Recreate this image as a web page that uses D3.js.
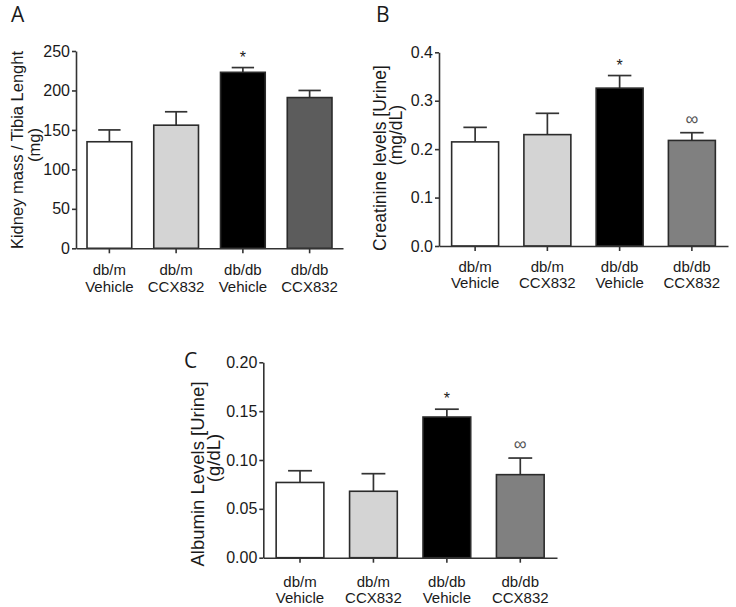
<!DOCTYPE html>
<html>
<head>
<meta charset="utf-8">
<script src="https://cdn.jsdelivr.net/npm/d3@7"></script>
<style>
  html, body { margin: 0; padding: 0; background: #fff; }
  svg { display: block; }
  text { font-family: "Liberation Sans", Arial, Helvetica, sans-serif; fill: #1a1a1a; }
</style>
</head>
<body>
<svg id="chart" width="736" height="607"></svg>
<script>
// ---- data ----
const genotypes = ["db/m", "db/m", "db/db", "db/db"];
const treatments = ["Vehicle", "CCX832", "Vehicle", "CCX832"];

const kidneyMass = [135, 156, 223, 191];
const kidneyMassErr = [15, 17, 6, 9];
const kidneyMarks = ["", "", "*", ""];
const kidneyTicks = [0, 50, 100, 150, 200, 250];

const creatinine = [0.215, 0.230, 0.326, 0.218];
const creatinineErr = [0.030, 0.044, 0.026, 0.016];
const creatinineMarks = ["", "", "*", "\u221E"];
const creatinineTicks = [0, 0.1, 0.2, 0.3, 0.4];

const albumin = [0.077, 0.068, 0.144, 0.085];
const albuminErr = [0.012, 0.018, 0.008, 0.017];
const albuminMarks = ["", "", "*", "\u221E"];
const albuminTicks = [0, 0.05, 0.10, 0.15, 0.20];

const fillsA = ["#ffffff", "#d4d4d4", "#000000", "#5c5c5c"];
const fillsBC = ["#ffffff", "#d4d4d4", "#000000", "#808080"];

// ---- drawing ----
const svg = d3.select("#chart");
const cats = genotypes.map((g, i) => i);
const FONT = '"Liberation Sans", Arial, Helvetica, sans-serif';

function panel(cfg) {
  const g = svg.append("g");
  const x = d3.scaleBand().domain(cats).range([cfg.x0, cfg.x1]).padding(0);
  const y = d3.scaleLinear().domain([0, cfg.max]).range([cfg.yBottom, cfg.yTop]);
  const bw = x.bandwidth() * cfg.barFrac;
  const cx = i => x(i) + x.bandwidth() / 2;

  // error bars (upper only)
  const err = g.append("g").attr("stroke", "#333").attr("stroke-width", 1.7);
  cfg.values.forEach((v, i) => {
    const top = y(v + cfg.errs[i]);
    err.append("line").attr("x1", cx(i)).attr("x2", cx(i)).attr("y1", y(v)).attr("y2", top);
    err.append("line").attr("x1", cx(i) - bw / 4).attr("x2", cx(i) + bw / 4).attr("y1", top).attr("y2", top);
  });

  // bars
  g.append("g").selectAll("rect").data(cfg.values).join("rect")
    .attr("x", (d, i) => cx(i) - bw / 2)
    .attr("width", bw)
    .attr("y", d => y(d))
    .attr("height", d => y(0) - y(d))
    .attr("fill", (d, i) => cfg.fills[i])
    .attr("stroke", "#2b2b2b")
    .attr("stroke-width", 1.6);

  // significance marks
  g.append("g").selectAll("text").data(cfg.marks).join("text")
    .attr("x", (d, i) => cx(i))
    .attr("y", (d, i) => y(cfg.values[i] + cfg.errs[i]) - (d === "*" ? 5 : 8))
    .attr("text-anchor", "middle")
    .style("font-family", FONT)
    .style("font-size", d => d === "*" ? "16px" : "18px")
    .style("fill", d => d === "*" ? "#1a1a1a" : "#555")
    .text(d => d);

  // y axis
  const yAxis = d3.axisLeft(y).tickValues(cfg.ticks).tickFormat(d3.format(cfg.fmt))
    .tickSizeInner(4).tickSizeOuter(0).tickPadding(2);
  const ya = g.append("g").attr("transform", `translate(${cfg.x0},0)`).call(yAxis);
  ya.attr("font-family", null).attr("font-size", null);
  ya.select(".domain").attr("stroke", "#333").attr("stroke-width", 1.6);
  ya.selectAll(".tick line").attr("stroke", "#333").attr("stroke-width", 1.6);
  ya.selectAll(".tick text").style("font-size", "16px").style("font-family", FONT).attr("fill", "#1a1a1a");

  // x axis
  const xAxis = d3.axisBottom(x).tickSizeInner(5).tickSizeOuter(0).tickFormat("");
  const xa = g.append("g").attr("transform", `translate(0,${cfg.yBottom})`).call(xAxis);
  xa.select(".domain").attr("stroke", "#333").attr("stroke-width", 1.6);
  xa.selectAll(".tick line").attr("stroke", "#333").attr("stroke-width", 1.6);

  // category labels
  const lab = g.append("g").attr("text-anchor", "middle");
  cats.forEach(i => {
    lab.append("text").attr("x", cx(i)).attr("y", cfg.yBottom + cfg.lab1)
      .style("font-family", FONT).style("font-size", "15px").text(genotypes[i]);
    lab.append("text").attr("x", cx(i)).attr("y", cfg.yBottom + cfg.lab2)
      .style("font-family", FONT).style("font-size", "15px").text(treatments[i]);
  });

  // y title (two lines)
  g.append("text")
    .attr("transform", `translate(${cfg.t1x},${cfg.t1y}) rotate(-90)`)
    .attr("text-anchor", "middle")
    .style("font-family", FONT)
    .style("font-size", cfg.tSize + "px")
    .text(cfg.title1);
  g.append("text")
    .attr("transform", `translate(${cfg.t2x},${cfg.t2y}) rotate(-90)`)
    .attr("text-anchor", "middle")
    .style("font-family", FONT)
    .style("font-size", cfg.tSize + "px")
    .text(cfg.title2);

  // panel letter
  g.append("text")
    .attr("x", cfg.lx).attr("y", cfg.ly)
    .style("font-family", '"Open Sans", "DejaVu Sans", sans-serif')
    .style("font-size", "21px")
    .text(cfg.letter);
}

panel({
  letter: "A", lx: 11, ly: 22,
  x0: 76, x1: 343, yBottom: 248.3, yTop: 51, max: 250,
  values: kidneyMass, errs: kidneyMassErr, marks: kidneyMarks,
  ticks: kidneyTicks, fmt: "d", fills: fillsA, barFrac: 0.67,
  lab1: 27, lab2: 44,
  title1: "Kidney mass / Tibia Lenght", title2: "(mg)", tSize: 16.5,
  t1x: 23, t1y: 150, t2x: 40, t2y: 145
});

panel({
  letter: "B", lx: 376, ly: 22,
  x0: 439, x1: 728, yBottom: 246, yTop: 52.3, max: 0.4,
  values: creatinine, errs: creatinineErr, marks: creatinineMarks,
  ticks: creatinineTicks, fmt: ".1f", fills: fillsBC, barFrac: 0.65,
  lab1: 26, lab2: 42,
  title1: "Creatinine levels [Urine]", title2: "(mg/dL)", tSize: 17.5,
  t1x: 386, t1y: 158, t2x: 402, t2y: 135
});

panel({
  letter: "C", lx: 184, ly: 368,
  x0: 263.3, x1: 557, yBottom: 557.7, yTop: 362.3, max: 0.2,
  values: albumin, errs: albuminErr, marks: albuminMarks,
  ticks: albuminTicks, fmt: ".2f", fills: fillsBC, barFrac: 0.65,
  lab1: 29, lab2: 45,
  title1: "Albumin Levels [Urine]", title2: "(g/dL)", tSize: 18.5,
  t1x: 204, t1y: 474, t2x: 220, t2y: 458
});
</script>
</body>
</html>
